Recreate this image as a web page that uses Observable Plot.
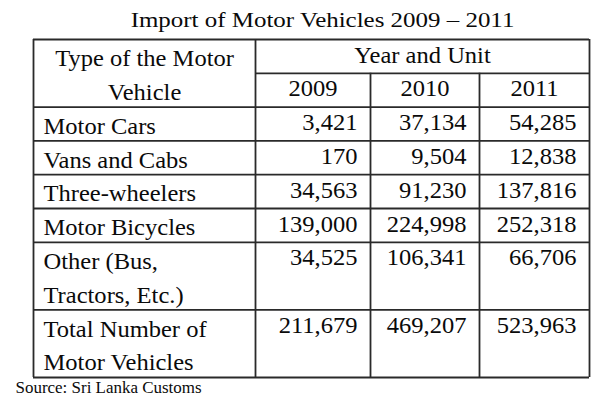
<!DOCTYPE html>
<html><head><meta charset="utf-8">
<script src="https://cdn.jsdelivr.net/npm/d3@7"></script>
<script src="https://cdn.jsdelivr.net/npm/@observablehq/plot@0.6"></script>
<style>body{margin:0;background:#fff}</style>
</head><body><div id="chart"></div>
<script>
// ---- data ----
const vehicleTypes = ["Motor Cars", "Vans and Cabs", "Three-wheelers", "Motor Bicycles", "Other (Bus,\nTractors, Etc.)", "Total Number of\nMotor Vehicles"];
const years = ["2009", "2010", "2011"];
const values2009 = [3421, 170, 34563, 139000, 34525, 211679];
const values2010 = [37134, 9504, 91230, 224998, 106341, 469207];
const values2011 = [54285, 12838, 137816, 252318, 66706, 523963];
const titleText = "Import of Motor Vehicles 2009 – 2011";
const headerLabel = "Type of the Motor\nVehicle";
const groupLabel = "Year and Unit";
const sourceText = "Source: Sri Lanka Customs";

// ---- layout (derived) ----
const font = "Liberation Serif";
const ink = "#0a0a0a";
const lineColor = "#2a2a2a";
const lw = 1.8;
const colWidths = [222, 115, 109, 110];
const E = Array.from(d3.cumsum([0, ...colWidths]));
const tableW = E[E.length - 1];
const headerSpan = 2;
const rowSpans = vehicleTypes.map(s => s.split("\n").length);
const rowTops = rowSpans.map((s, i) => headerSpan + d3.sum(rowSpans.slice(0, i)));
const totalSpan = headerSpan + d3.sum(rowSpans);
const rows = vehicleTypes.map((label, i) => ({label, top: rowTops[i], span: rowSpans[i],
  values: [values2009[i], values2010[i], values2011[i]]}));
const cells = rows.flatMap(r => years.map((yr, j) => ({yr, value: r.values[j], top: r.top, col: j + 1})));
const fmt = d3.format(",");
const fullLines = [0, headerSpan, ...rowTops.slice(1), totalSpan];
const fs = 22.5, lh = 33.8 / fs, titleFs = 21.5, srcFs = 16;
const stretch = {[fs]: 1.09, [titleFs]: 1.16, [srcFs]: 1.06};
const T = {fontFamily: font, fill: ink, lineAnchor: "middle"};

const chart = Plot.plot({
  width: 600, height: 400, margin: 0,
  x: {domain: [0, tableW], range: [33, 589], axis: null},
  y: {domain: [0, totalSpan], range: [39, 377], axis: null},
  style: {fontFamily: font, background: "#fff", color: ink},
  marks: [
    Plot.ruleY(fullLines, {y: d => d, x1: 0, x2: tableW, stroke: lineColor, strokeWidth: lw}),
    Plot.ruleY([1], {y: d => d, x1: E[1], x2: tableW, stroke: lineColor, strokeWidth: lw}),
    Plot.ruleX([E[0], E[1], E[4]], {x: d => d, y1: 0, y2: totalSpan, stroke: lineColor, strokeWidth: lw}),
    Plot.ruleX([E[2], E[3]], {x: d => d, y1: 1, y2: totalSpan, stroke: lineColor, strokeWidth: lw}),
    Plot.text([titleText], {...T, x: tableW / 2 + 11, y: 0, dy: -19, text: d => d, fontSize: titleFs}),
    Plot.text([headerLabel], {...T, x: E[1] / 2, y: 1, text: d => d, fontSize: fs, lineHeight: lh, dy: -1}),
    Plot.text([groupLabel], {...T, x: (E[1] + tableW) / 2, y: 0.5, text: d => d, fontSize: fs, dy: -1}),
    Plot.text(years, {...T, x: (d, i) => (E[i + 1] + E[i + 2]) / 2, y: 1.5, text: d => d, fontSize: fs, dy: -1}),
    Plot.text(rows, {...T, x: 10, y: d => d.top + d.span / 2, text: "label", textAnchor: "start", fontSize: fs, lineHeight: lh, dy: -1}),
    Plot.text(cells, {...T, x: d => E[d.col + 1] - 13, y: d => d.top + 0.5, text: d => fmt(d.value), textAnchor: "end", fontSize: fs, dy: -1}),
    Plot.text([sourceText], {...T, x: -18, y: totalSpan, dy: 10, text: d => d, textAnchor: "start", fontSize: srcFs})
  ]
});
document.getElementById("chart").append(chart);

// widen glyphs horizontally to match the reference's stretched type
chart.querySelectorAll("g[font-size]").forEach(g => {
  const k = stretch[+g.getAttribute("font-size")];
  if (!k) return;
  g.querySelectorAll("text").forEach(t => {
    const spans = t.querySelectorAll("tspan");
    const targets = spans.length ? Array.from(spans) : [t];
    targets.forEach(el => {
      const len = el.getComputedTextLength();
      if (len > 0) {
        el.setAttribute("textLength", (len * k).toFixed(2));
        el.setAttribute("lengthAdjust", "spacingAndGlyphs");
      }
    });
  });
});
</script>
</body></html>
